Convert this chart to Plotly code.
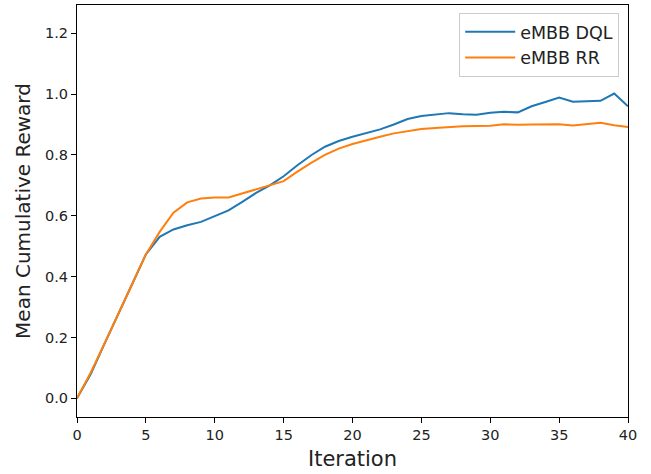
import plotly.graph_objects as go

iterations = list(range(41))
dql = [0.0, 0.08, 0.18, 0.28, 0.375, 0.473, 0.531, 0.555, 0.569, 0.58, 0.599,
       0.618, 0.646, 0.675, 0.70, 0.73, 0.766, 0.799, 0.827, 0.846, 0.86,
       0.871, 0.884, 0.90, 0.918, 0.928, 0.934, 0.9375, 0.934, 0.932, 0.939,
       0.942, 0.94, 0.96, 0.974, 0.989, 0.975, 0.976, 0.978, 1.002, 0.96]
rr = [0.0, 0.085, 0.18, 0.28, 0.375, 0.473, 0.547, 0.61, 0.644, 0.657, 0.66,
      0.66, 0.673, 0.686, 0.70, 0.714, 0.745, 0.774, 0.80, 0.821, 0.836,
      0.849, 0.86, 0.871, 0.879, 0.885, 0.889, 0.892, 0.894, 0.895, 0.896,
      0.901, 0.899, 0.90, 0.90, 0.901, 0.897, 0.902, 0.906, 0.898, 0.892]
x_ticks = [0, 5, 10, 15, 20, 25, 30, 35, 40]
y_ticks = [0.0, 0.2, 0.4, 0.6, 0.8, 1.0, 1.2]

fig = go.Figure()
fig.add_trace(go.Scatter(x=iterations, y=dql, mode="lines", name="eMBB DQL",
                         line=dict(color="#1f77b4", width=2)))
fig.add_trace(go.Scatter(x=iterations, y=rr, mode="lines", name="eMBB RR",
                         line=dict(color="#ff7f0e", width=2)))

axis_common = dict(showline=True, linecolor="black", linewidth=1, mirror=True,
                   ticks="outside", ticklen=5, tickcolor="black", tickwidth=1,
                   showgrid=False, zeroline=False, automargin=False,
                   tickfont=dict(family="DejaVu Sans", size=14.5, color="#222"))

fig.update_layout(
    width=651, height=474,
    margin=dict(l=77, r=23, t=5, b=57),
    paper_bgcolor="white", plot_bgcolor="white",
    font=dict(family="DejaVu Sans", color="#222"),
    xaxis=dict(range=[0, 40], tickvals=x_ticks, **axis_common,
               title=dict(text="Iteration", font=dict(size=21), standoff=8)),
    yaxis=dict(range=[-0.0615, 1.293], tickvals=y_ticks, tickformat=".1f", **axis_common,
               title=dict(text="Mean Cumulative Reward", font=dict(size=20), standoff=9)),
    legend=dict(x=0.984, y=0.981, xanchor="right", yanchor="top",
                bgcolor="rgba(255,255,255,0.8)", bordercolor="#cccccc", borderwidth=1,
                font=dict(size=17.5, family="DejaVu Sans", color="#222"),
                itemwidth=50),
    showlegend=True,
)

fig.write_html("out.html", config={"displayModeBar": False})

with open("out.html", "r", encoding="utf-8") as f:
    html = f.read()
html = html.replace("<head>", "<head><style>html,body{margin:0;padding:0;}</style>", 1)
with open("out.html", "w", encoding="utf-8") as f:
    f.write(html)
